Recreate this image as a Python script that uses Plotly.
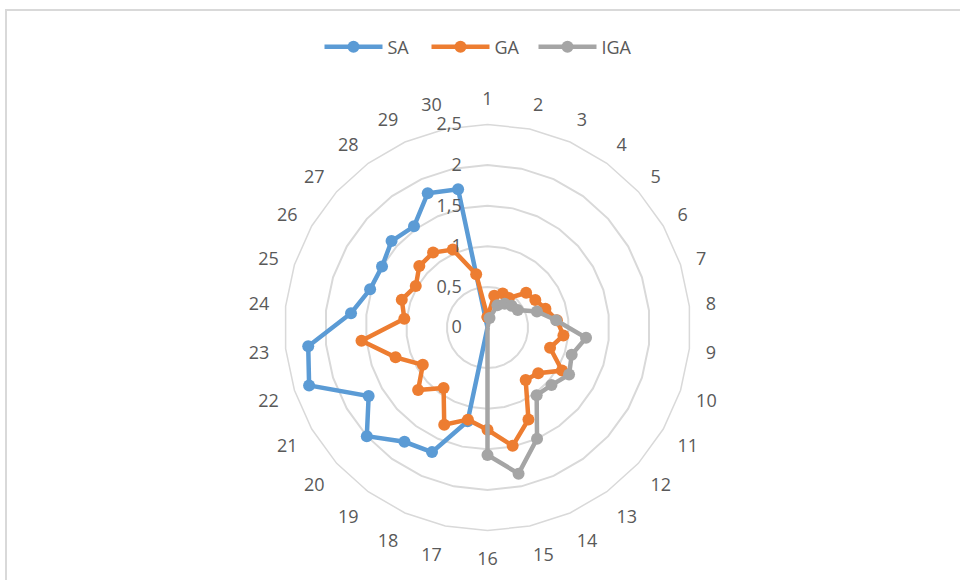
import plotly.graph_objects as go

# Category labels around the radar (1..30)
categories = [str(i) for i in range(1, 31)]

# Series values per category
sa = [0, 0, 0, 0, 0, 0, 0, 0, 0, 0, 0, 0, 0, 0, 0, 0,
      1.18, 1.68, 1.74, 2.00, 1.69, 2.31, 2.22, 1.69, 1.52, 1.50, 1.59, 1.54, 1.81, 1.74]
ga = [0.13, 0.40, 0.46, 0.45, 0.64, 0.68, 0.75, 0.86, 0.94, 0.81, 1.06, 0.84, 0.80, 1.24, 1.49,
      1.26, 1.16, 1.31, 0.92, 1.15, 0.92, 1.19, 1.56, 1.03, 1.11, 1.02, 1.13, 1.14, 1.05, 0.67]
iga = [0, 0.12, 0.30, 0.36, 0.40, 0.43, 0.64, 0.85, 1.22, 1.09, 1.16, 1.06, 1.03, 1.50, 1.84,
       1.57, 0, 0, 0, 0, 0, 0, 0, 0, 0, 0, 0, 0, 0, 0]

# Radial tick values and their labels (comma decimal separator)
radial_ticks = [0, 0.5, 1, 1.5, 2, 2.5]
radial_labels = ["0", "0,5", "1", "1,5", "2", "2,5"]

series = [("SA", sa, "#5b9bd5"), ("GA", ga, "#ed7d31"), ("IGA", iga, "#a5a5a5")]

FONT = "Open Sans"
TEXT = "#595959"
GRID = "#d9d9d9"
FS = 18

fig = go.Figure()
for name, vals, color in series:
    fig.add_trace(go.Scatterpolar(
        r=vals + vals[:1],
        theta=categories + categories[:1],
        mode="lines+markers",
        name=name,
        line=dict(color=color, width=4.5),
        marker=dict(color=color, size=12),
    ))

W, H = 960, 580
cx, cy, R = 487.5, 327.5, 203

fig.update_layout(
    width=W, height=H,
    margin=dict(l=0, r=0, t=0, b=0),
    paper_bgcolor="white",
    font=dict(family=FONT, size=FS, color=TEXT),
    showlegend=True,
    legend=dict(
        orientation="h", x=0.5, xanchor="center",
        y=1 - 47 / H, yanchor="middle",
        font=dict(family=FONT, size=FS, color=TEXT),
        itemwidth=58,
        entrywidth=34,
        bgcolor="rgba(0,0,0,0)",
    ),
    polar=dict(
        domain=dict(x=[(cx - R) / W, (cx + R) / W],
                    y=[(H - cy - R) / H, (H - cy + R) / H]),
        bgcolor="white",
        gridshape="linear",
        angularaxis=dict(
            type="category",
            categoryarray=categories,
            rotation=90,
            direction="clockwise",
            showgrid=False,
            showline=True,
            linecolor=GRID,
            linewidth=1.5,
            ticks="outside",
            ticklen=12,
            tickcolor="rgba(0,0,0,0)",
            tickfont=dict(family=FONT, size=FS, color=TEXT),
        ),
        radialaxis=dict(
            range=[0, 2.5],
            angle=90,
            side="counterclockwise",
            tickangle=90,
            tickvals=radial_ticks,
            ticktext=radial_labels,
            showline=False,
            gridcolor=GRID,
            gridwidth=1.5,
            ticks="outside",
            ticklen=19,
            tickcolor="rgba(0,0,0,0)",
            tickfont=dict(family=FONT, size=FS, color=TEXT),
        ),
    ),
    shapes=[dict(
        type="rect", xref="paper", yref="paper",
        x0=6 / W, x1=1.05, y0=-0.05, y1=1 - 10 / H,
        line=dict(color=GRID, width=2),
        fillcolor="rgba(0,0,0,0)",
        layer="below",
    )],
)

fig.write_html("out.html")
